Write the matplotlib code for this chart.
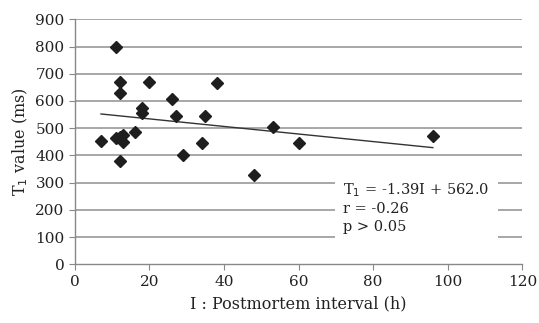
import numpy as np
import matplotlib.pyplot as plt

# postmortem interval (h) and T1 value (ms)
interval = [11, 12, 12, 20, 38, 26, 18, 18, 27, 35, 7, 11, 12, 13, 13, 16, 12, 29, 34, 48, 53, 60, 96]
t1_value = [800, 670, 630, 670, 665, 607, 573, 557, 546, 546, 453, 463, 467, 475, 450, 487, 381, 402, 447, 328, 503, 445, 471]

slope = -1.39
intercept = 562.0
fit_x = [7, 96]

xticks = [0, 20, 40, 60, 80, 100, 120]
yticks = [0, 100, 200, 300, 400, 500, 600, 700, 800, 900]

plt.rcParams['font.family'] = ['DejaVu Serif']

fig = plt.figure(figsize=(5.39, 3.23), dpi=100)
ax = fig.add_axes([0.139, 0.182, 0.830, 0.758])

for y in yticks[1:]:
    ax.axhline(y, color='#a0a0a0', lw=1.3, zorder=0)

fx = np.array(fit_x)
ax.plot(fx, slope * fx + intercept, color='#333333', lw=1.0, zorder=2)
ax.plot(interval, t1_value, 'D', color='#1e1e1e', ms=6, zorder=3)

ax.text(72, 305, 'T$_1$ = -1.39I + 562.0\nr = -0.26\np > 0.05',
        fontsize=10.5, va='top', ha='left', linespacing=1.3, color='#222222',
        bbox=dict(facecolor='white', edgecolor='none', pad=6), zorder=4)

ax.set_xlim(0, 120)
ax.set_ylim(0, 900)
ax.set_xticks(xticks)
ax.set_yticks(yticks)
ax.tick_params(labelsize=11, colors='#222222', length=4, width=0.8)
ax.tick_params(axis='both', color='#888888')

for side in ['top', 'right']:
    ax.spines[side].set_visible(False)
for side in ['left', 'bottom']:
    ax.spines[side].set_color('#888888')
    ax.spines[side].set_linewidth(1.0)

ax.set_xlabel('I : Postmortem interval (h)', fontsize=11.5, color='#222222', labelpad=5)
ax.set_ylabel('T$_1$ value (ms)', fontsize=11.5, color='#222222', labelpad=4)

fig.savefig('out.png', dpi=100)
